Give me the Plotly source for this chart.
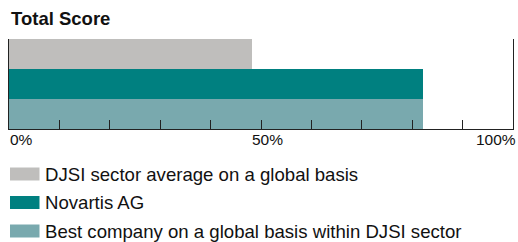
import plotly.graph_objects as go

# ---- data ----
series_names = [
    "DJSI sector average on a global basis",
    "Novartis AG",
    "Best company on a global basis within DJSI sector",
]
scores = [48.2, 82.1, 82.1]
colors = ["#BFBEBC", "#008080", "#79A9AE"]
tick_values = [0, 10, 20, 30, 40, 50, 60, 70, 80, 90, 100]
label_values = [0, 50, 100]
label_texts = ["0%", "50%", "100%"]
title_text = "Total Score"

W, H = 518, 242
L, R, T, B = 9, 5, 39, 113
pw, ph = W - L - R, H - T - B

def px_x(p):
    return (p - L) / pw

def px_y(p):
    return (H - B - p) / ph

FONT = "Liberation Sans, Arial, sans-serif"

fig = go.Figure()
fig.add_trace(go.Bar(
    x=scores, y=series_names, orientation="h",
    marker=dict(color=colors, line=dict(width=0)),
    width=1, showlegend=False, hoverinfo="x+y",
))

fig.update_layout(
    width=W, height=H,
    margin=dict(l=L, r=R, t=T, b=B, pad=0),
    paper_bgcolor="white", plot_bgcolor="white",
    bargap=0,
    font=dict(family=FONT, color="#111"),
    xaxis=dict(
        range=[0, 100], tickvals=tick_values, showticklabels=False,
        ticks="inside", ticklen=9, tickcolor="#222", tickwidth=1,
        showline=True, linecolor="#222", linewidth=1,
        showgrid=False, zeroline=False, layer="above traces", fixedrange=True,
    ),
    yaxis=dict(
        categoryorder="array", categoryarray=series_names, autorange="reversed",
        showticklabels=False, ticks="", showline=True, mirror=True,
        linecolor="#222", linewidth=1, showgrid=False, zeroline=False,
        layer="above traces", fixedrange=True,
    ),
)

annotations = []
# title
annotations.append(dict(
    text="<b>%s</b>" % title_text, xref="paper", yref="paper",
    x=px_x(9), y=px_y(18.5), xanchor="left", yanchor="middle",
    showarrow=False, font=dict(size=18.5, family=FONT, color="#111"),
))
# axis labels
anchors = ["left", "center", "right"]
shifts = [-1, 6, 5]
for v, t, a, s in zip(label_values, label_texts, anchors, shifts):
    annotations.append(dict(
        text=t, xref="x", yref="paper", x=v, y=px_y(139.5),
        xanchor=a, yanchor="middle", xshift=s, showarrow=False,
        font=dict(size=15.5, family=FONT, color="#111"),
    ))

# custom legend
centers = [174, 202.5, 231]
shapes = []
for name, c, cy in zip(series_names, colors, centers):
    shapes.append(dict(
        type="rect", xref="paper", yref="paper",
        x0=px_x(10), x1=px_x(39.5), y0=px_y(cy + 6.5), y1=px_y(cy - 6.5),
        fillcolor=c, line=dict(width=0),
    ))
    annotations.append(dict(
        text=name, xref="paper", yref="paper", x=px_x(43), y=px_y(cy),
        xanchor="left", yanchor="middle", showarrow=False,
        font=dict(size=18.6, family=FONT, color="#111"),
    ))

fig.update_layout(annotations=annotations, shapes=shapes)
fig.write_html(
    "out.html",
    config={"displayModeBar": False},
    post_script="document.body.style.margin='0';document.body.style.overflow='hidden';",
)
